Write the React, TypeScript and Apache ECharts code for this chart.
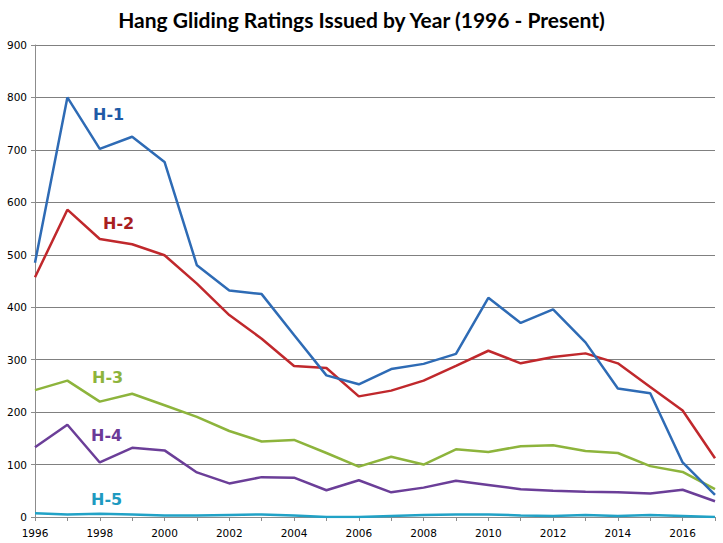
import React, { useEffect, useRef } from "react";
import * as echarts from "echarts";

const years = [
  "1996", "1997", "1998", "1999", "2000", "2001", "2002", "2003", "2004", "2005", "2006",
  "2007", "2008", "2009", "2010", "2011", "2012", "2013", "2014", "2015", "2016", "2017",
];
const h1 = [485, 800, 702, 725, 677, 480, 432, 425, 347, 270, 253, 282, 292, 311, 418, 370, 396, 333, 245, 236, 104, 42];
const h2 = [457, 586, 530, 520, 499, 445, 385, 340, 288, 284, 230, 241, 260, 288, 317, 293, 305, 312, 293, 248, 203, 112];
const h3 = [242, 260, 220, 235, 213, 191, 164, 144, 147, 122, 96, 115, 100, 129, 124, 135, 137, 126, 122, 97, 86, 53];
const h4 = [133, 176, 104, 132, 127, 85, 64, 76, 75, 51, 70, 47, 56, 69, 61, 53, 50, 48, 47, 45, 52, 30];
const h5 = [7, 5, 6, 5, 3, 3, 4, 5, 3, 0, 0, 2, 4, 5, 5, 3, 2, 4, 2, 4, 2, 0];
const seriesNames = ["H-1", "H-2", "H-3", "H-4", "H-5"];
const lineColors = ["#2E6BB5", "#C0282C", "#8DB43C", "#6B3E98", "#21A2C6"];
const labelColors = ["#1F5AA6", "#A8201F", "#8DB43C", "#6B3A98", "#1E9AC0"];

export default function App() {
  const ref = useRef<HTMLDivElement>(null);
  useEffect(() => {
    document.body.style.margin = "0";
    if (!ref.current) return;
    const chart = echarts.init(ref.current, null, { renderer: "svg" });
    const data = [h1, h2, h3, h4, h5];
    const labelPos = [
      [93, 115],
      [103, 224],
      [92, 378],
      [91, 436],
      [91, 500],
    ];
    chart.setOption({
      animation: false,
      backgroundColor: "#ffffff",
      title: {
        text: "Hang Gliding Ratings Issued by Year (1996 - Present)",
        left: "center",
        top: 4,
        textStyle: {
          fontFamily: "Lato",
          fontWeight: "bold",
          fontSize: 21,
          color: "#000000",
        },
      },
      grid: { left: 35, right: 8, top: 45, bottom: 26, containLabel: false },
      xAxis: {
        type: "category",
        data: years,
        boundaryGap: false,
        axisLine: { show: true, lineStyle: { color: "#8C8C8C", width: 1 } },
        axisTick: { show: true, interval: 0, length: 4, inside: false, lineStyle: { color: "#8C8C8C" } },
        axisLabel: {
          interval: 1,
          fontFamily: "DejaVu Sans",
          fontSize: 10.5,
          color: "#000000",
          margin: 10,
        },
        splitLine: { show: false },
      },
      yAxis: {
        type: "value",
        min: 0,
        max: 900,
        interval: 100,
        axisLine: { show: true, lineStyle: { color: "#8C8C8C", width: 1 } },
        axisTick: { show: true, length: 4, lineStyle: { color: "#8C8C8C" } },
        axisLabel: {
          fontFamily: "DejaVu Sans",
          fontSize: 10.5,
          color: "#000000",
          margin: 8,
        },
        splitLine: { show: true, lineStyle: { color: "#808080", width: 1 } },
      },
      series: data.map((d, i) => ({
        name: seriesNames[i],
        type: "line",
        data: d,
        symbol: "none",
        smooth: false,
        lineStyle: { color: lineColors[i], width: 2.5 },
        itemStyle: { color: lineColors[i] },
        z: 10 - i,
      })),
      graphic: seriesNames.map((n, i) => ({
        type: "text",
        left: labelPos[i][0],
        top: labelPos[i][1] - 9,
        z: 100,
        style: {
          text: n,
          fill: labelColors[i],
          font: "bold 16px 'DejaVu Sans'",
        },
      })),
    });
    return () => chart.dispose();
  }, []);
  return <div ref={ref} style={{ width: 723, height: 543 }} />;
}
